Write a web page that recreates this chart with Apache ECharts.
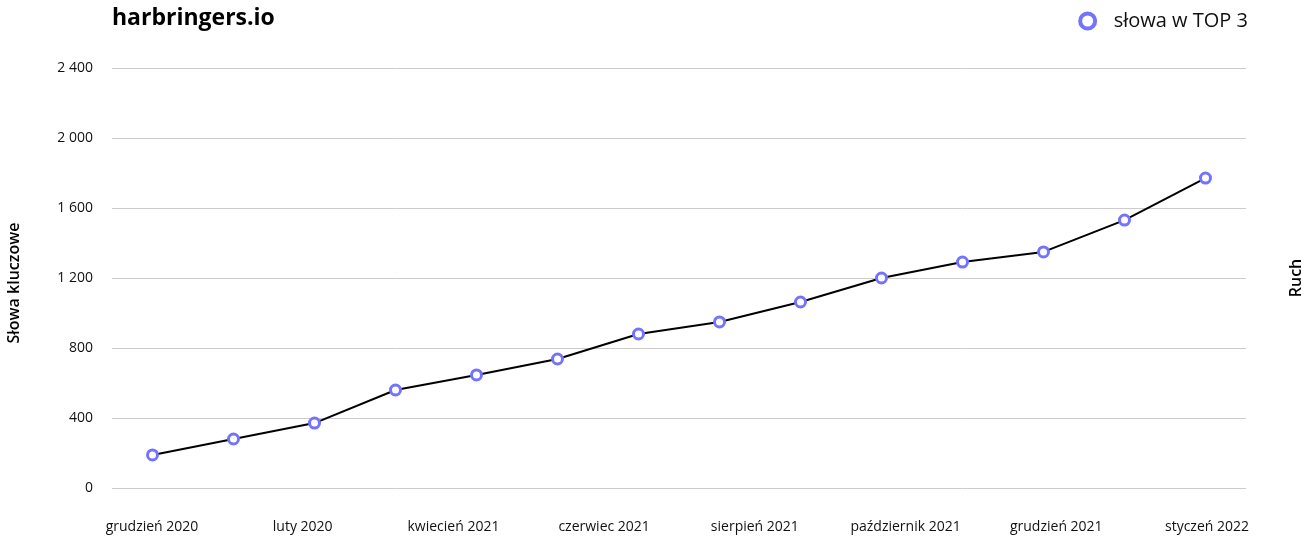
<!DOCTYPE html>
<html>
<head>
<meta charset="utf-8">
<script src="https://cdn.jsdelivr.net/npm/echarts@6/dist/echarts.min.js"></script>
<style>
  html, body { margin: 0; padding: 0; background: #fff; }
  #chart { width: 1309px; height: 538px; }
</style>
</head>
<body>
<div id="chart"></div>
<script>
(function() {
  'use strict';

  // data months (Dec 2020 .. Jan 2022)
  var months = [
    'grudzień 2020', 'styczeń 2021', 'luty 2021', 'marzec 2021', 'kwiecień 2021',
    'maj 2021', 'czerwiec 2021', 'lipiec 2021', 'sierpień 2021', 'wrzesień 2021',
    'październik 2021', 'listopad 2021', 'grudzień 2021', 'styczeń 2022'
  ];
  var top3Words = [189, 280, 371, 560, 646, 737, 880, 949, 1063, 1200, 1291, 1349, 1531, 1771];

  // labels shown under the axis
  var axisLabels = [
    'grudzień 2020', 'luty 2020', 'kwiecień 2021', 'czerwiec 2021',
    'sierpień 2021', 'październik 2021', 'grudzień 2021', 'styczeń 2022'
  ];

  var yMin = 0, yMax = 2400, yStep = 400;

  var font = '"Open Sans", "Noto Sans", sans-serif';
  var accent = '#7373ff';

  function fmt(v) {
    return String(v).replace(/\B(?=(\d{3})+(?!\d))/g, ' ');
  }

  var chart = echarts.init(document.getElementById('chart'), null, { renderer: 'canvas' });

  chart.setOption({
    animation: false,
    textStyle: { fontFamily: font },
    title: {
      text: 'harbringers.io',
      left: 107,
      top: 2,
      textStyle: { fontFamily: font, fontSize: 23, fontWeight: 'bold', color: '#000' }
    },
    legend: {
      data: ['słowa w TOP 3'],
      right: 56,
      top: 6,
      icon: 'circle',
      itemWidth: 42,
      itemHeight: 15,
      textStyle: { fontFamily: font, fontSize: 20, color: '#111' },
      itemStyle: { color: '#fff', borderColor: accent, borderWidth: 4 }
    },
    grid: [
      { left: 112, right: 63, top: 68, bottom: 50, outerBoundsMode: 'none' },
      { left: 152, right: 102, top: 68, bottom: 50, outerBoundsMode: 'none' }
    ],
    xAxis: [
      {
        type: 'category',
        gridIndex: 0,
        data: months,
        boundaryGap: true,
        axisLine: { show: false },
        axisTick: { show: false },
        axisLabel: { show: false }
      },
      {
        type: 'category',
        gridIndex: 1,
        data: axisLabels,
        boundaryGap: false,
        axisLine: { show: false },
        axisTick: { show: false },
        axisLabel: {
          interval: 0,
          margin: 32,
          fontFamily: font,
          fontSize: 14,
          color: '#111'
        }
      }
    ],
    yAxis: [
      {
        type: 'value',
        gridIndex: 0,
        min: yMin,
        max: yMax,
        interval: yStep,
        name: 'Słowa kluczowe',
        nameLocation: 'middle',
        nameGap: 90,
        nameTextStyle: { fontFamily: font, fontSize: 16, fontWeight: 600, color: '#000', padding: [0, 10, 0, 0] },
        axisLine: { show: false },
        axisTick: { show: false },
        axisLabel: {
          margin: 19,
          fontFamily: font,
          fontSize: 14,
          color: '#111',
          formatter: fmt
        },
        splitLine: { lineStyle: { color: '#cccccc', width: 1 } }
      },
      {
        type: 'value',
        gridIndex: 0,
        position: 'right',
        min: yMin,
        max: yMax,
        interval: yStep,
        name: 'Ruch',
        nameLocation: 'middle',
        nameGap: 42,
        nameTextStyle: { fontFamily: font, fontSize: 16, fontWeight: 600, color: '#000' },
        axisLine: { show: false },
        axisTick: { show: false },
        axisLabel: { show: false },
        splitLine: { show: false }
      },
      {
        type: 'value',
        gridIndex: 1,
        show: false
      }
    ],
    series: [{
      name: 'słowa w TOP 3',
      type: 'line',
      xAxisIndex: 0,
      yAxisIndex: 0,
      data: top3Words,
      symbol: 'circle',
      symbolSize: 10,
      showSymbol: true,
      lineStyle: { color: '#000', width: 2 },
      itemStyle: { color: '#fff', borderColor: accent, borderWidth: 3 },
      emphasis: { disabled: true }
    }]
  });
})();
</script>
</body>
</html>
